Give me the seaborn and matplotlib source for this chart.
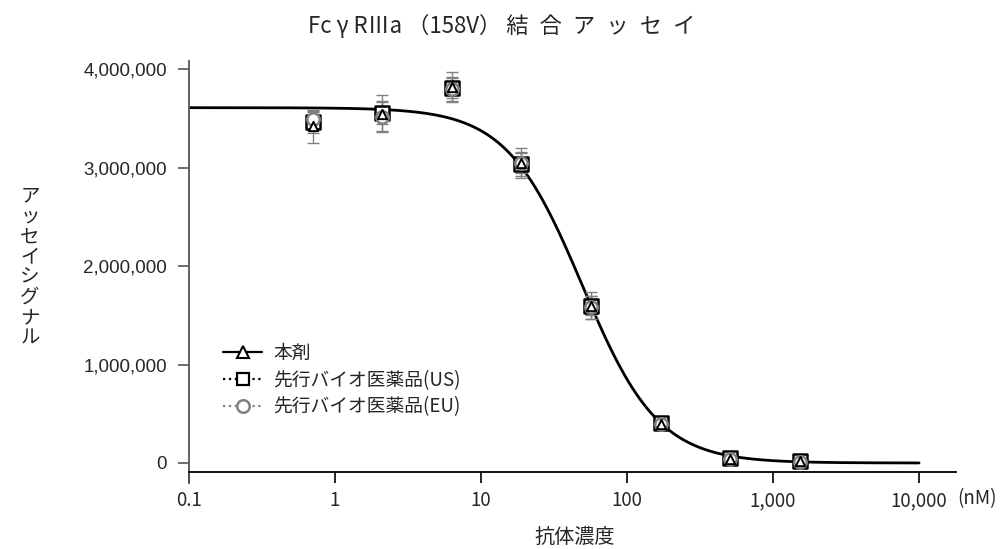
import numpy as np
import matplotlib
matplotlib.use("Agg")
import matplotlib.pyplot as plt
from matplotlib.lines import Line2D
from matplotlib.ticker import FixedLocator, NullLocator
import seaborn as sns

sns.set_theme(style="white")
plt.rcParams["font.family"] = ["Noto Sans CJK JP", "DejaVu Sans"]

# ---- data ----
conc_nM = [0.71, 2.1, 6.3, 18.9, 56.7, 170, 510, 1530]
honzai = [3420000, 3550000, 3820000, 3050000, 1600000, 400000, 45000, 20000]
honzai_sd = [170000, 190000, 150000, 155000, 140000, 40000, 20000, 10000]
us = [3460000, 3560000, 3810000, 3040000, 1600000, 410000, 50000, 20000]
us_sd = [110000, 120000, 100000, 120000, 100000, 30000, 10000, 10000]
eu = [3490000, 3520000, 3800000, 3050000, 1580000, 400000, 40000, 15000]
eu_sd = [90000, 150000, 120000, 100000, 120000, 30000, 10000, 10000]

# 4-parameter logistic fit shown as the curve
fit_top = 3610000
fit_bottom = 0
fit_ec50 = 49.4
fit_hill = 1.67

series_labels = ["本剤", "先行バイオ医薬品(US)", "先行バイオ医薬品(EU)"]
xtick_vals = [0.1, 1, 10, 100, 1000, 10000]
xtick_labels = ["0.1", "1", "10", "100", "1,000", "10,000"]
ytick_vals = [0, 1000000, 2000000, 3000000, 4000000]
ytick_labels = ["0", "1,000,000", "2,000,000", "3,000,000", "4,000,000"]

title = "Fc γ RⅢa （158V） " + "\u2002".join("結合アッセイ")
xlabel = "抗体濃度"
ylabel = "アッセイシグナル"
unit = "(nM)"

# ---- figure ----
fig = plt.figure(figsize=(10.06, 5.49), dpi=100)
ax = fig.add_axes([0.1879, 0.1208, 0.7621, 0.7686])
ax.set_xscale("log")
ax.set_xlim(0.1, 10 ** 4.251)
ax.set_ylim(-200000, 4087000)

xs = np.logspace(-1, 4, 400)
ys = fit_bottom + (fit_top - fit_bottom) / (1 + (xs / fit_ec50) ** fit_hill)
sns.lineplot(x=xs, y=ys, ax=ax, color="black", lw=2.0, zorder=2)

grey = "#808080"
for vals, sd in [(honzai, honzai_sd), (us, us_sd), (eu, eu_sd)]:
    ax.errorbar(conc_nM, vals, yerr=sd, fmt="none", ecolor=grey,
                elinewidth=1.0, capsize=4, capthick=1.0, zorder=3)

sns.scatterplot(x=conc_nM, y=us, ax=ax, marker="s", s=110, facecolor="white",
                edgecolor="black", linewidth=1.8, zorder=4)
sns.scatterplot(x=conc_nM, y=eu, ax=ax, marker="o", s=80, facecolor="white",
                edgecolor=grey, linewidth=1.8, zorder=5)
sns.scatterplot(x=conc_nM, y=honzai, ax=ax, marker="^", s=45, facecolor="white",
                edgecolor="black", linewidth=1.4, zorder=6)

# spines
for s in ["top", "right"]:
    ax.spines[s].set_visible(False)
ax.spines["bottom"].set_position(("data", -94500))
ax.spines["bottom"].set_color("black")
ax.spines["bottom"].set_linewidth(1.3)
ax.spines["left"].set_color("#555555")
ax.spines["left"].set_linewidth(1.3)

ax.xaxis.set_major_locator(FixedLocator(xtick_vals))
ax.xaxis.set_minor_locator(NullLocator())
ax.set_xticklabels(xtick_labels)
ax.yaxis.set_major_locator(FixedLocator(ytick_vals))
ax.set_yticklabels(ytick_labels)
ax.tick_params(axis="x", direction="out", length=8, width=1.2, color="black",
               pad=5, labelsize=13.5, bottom=True)
ax.tick_params(axis="y", direction="out", length=8, width=1.2, color="#555555",
               pad=8, labelsize=13.5, left=True)
for lab in ax.get_yticklabels():
    lab.set_fontfamily(["Liberation Sans", "DejaVu Sans"])
ax.grid(False)

fig.text(957 / 1006, 1 - 499 / 549, unit, ha="left", va="center", fontsize=13.5)
fig.text(502 / 1006, 1 - 26 / 549, title, ha="center", va="center", fontsize=16)
fig.text(575 / 1006, 1 - 537 / 549, xlabel, ha="center", va="center", fontsize=14.5)
fig.text(30 / 1006, 1 - 267 / 549, "\n".join(ylabel), ha="center", va="center",
         fontsize=14, linespacing=0.95)

handles = [
    Line2D([], [], color="black", lw=1.6, ls="-", marker="^", ms=9,
           mfc="white", mec="black", mew=1.5),
    Line2D([], [], color="black", lw=1.6, ls=":", marker="s", ms=9,
           mfc="white", mec="black", mew=1.6),
    Line2D([], [], color=grey, lw=1.6, ls=":", marker="o", ms=9,
           mfc="white", mec=grey, mew=1.8),
]
fig.legend(handles, series_labels, loc="upper left",
           bbox_to_anchor=(223 / 1006, 1 - 343 / 549), frameon=False,
           borderpad=0, borderaxespad=0, handlelength=2.1, handletextpad=0.6,
           labelspacing=0.3, fontsize=13.5)

fig.savefig("out.png", dpi=100)
